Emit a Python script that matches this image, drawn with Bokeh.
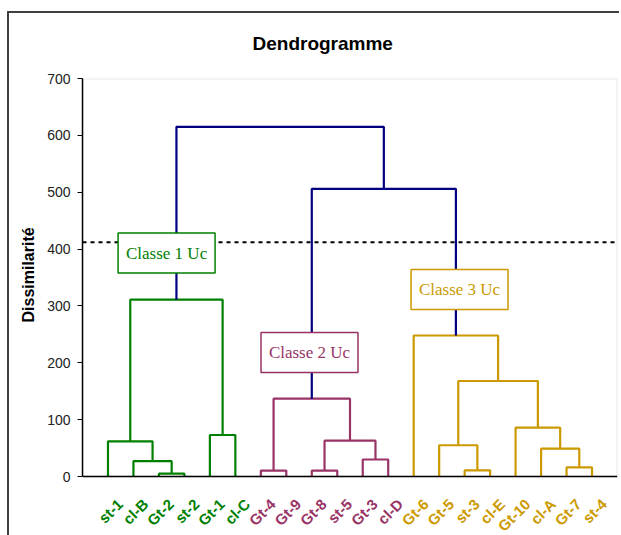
import math
from bokeh.plotting import figure
from bokeh.models import Range1d, FixedTicker, Span, BoxAnnotation, Title
from bokeh.core.properties import value
from bokeh.embed import file_html
from bokeh.resources import INLINE

# ---- data ----
leaves = ["st-1", "cl-B", "Gt-2", "st-2", "Gt-1", "cl-C",
          "Gt-4", "Gt-9", "Gt-8", "st-5", "Gt-3", "cl-D",
          "Gt-6", "Gt-5", "st-3", "cl-E", "Gt-10", "cl-A", "Gt-7", "st-4"]
leaf_class = [1, 1, 1, 1, 1, 1,
              2, 2, 2, 2, 2, 2,
              3, 3, 3, 3, 3, 3, 3, 3]
# agglomeration steps: node m{k} joins merge_left[k] and merge_right[k] at merge_height[k]
merge_left = ["Gt-2", "cl-B", "st-1", "Gt-1", "m2",
              "Gt-4", "Gt-8", "Gt-3", "m6", "m5",
              "st-3", "Gt-5", "Gt-7", "cl-A", "Gt-10", "m11", "Gt-6",
              "m9", "m4"]
merge_right = ["st-2", "m0", "m1", "cl-C", "m3",
               "Gt-9", "st-5", "cl-D", "m7", "m8",
               "cl-E", "m10", "st-4", "m12", "m13", "m14", "m15",
               "m16", "m17"]
merge_height = [5, 27, 62, 73, 311,
                10.5, 10.5, 30, 63, 137,
                11, 55, 16, 49, 86, 168, 248,
                506, 615]
cut_level = 412
class_names = ["Classe 1 Uc", "Classe 2 Uc", "Classe 3 Uc"]
y_ticks = [0, 100, 200, 300, 400, 500, 600, 700]

# ---- styles ----
class_colors = {1: "#008000", 2: "#993366", 3: "#CC9900"}
link_color = "#000080"
FONT = "Liberation Sans"

# ---- dendrogram geometry from the linkage ----
pos = {n: i + 1 for i, n in enumerate(leaves)}
hgt = {n: 0.0 for n in leaves}
cls = {n: c for n, c in zip(leaves, leaf_class)}
xs, ys, cols = [], [], []
for k, (l, r, h) in enumerate(zip(merge_left, merge_right, merge_height)):
    node = "m%d" % k
    xs.append([pos[l], pos[l], pos[r], pos[r]])
    ys.append([hgt[l], h, h, hgt[r]])
    same = cls[l] is not None and cls[l] == cls[r]
    cols.append(class_colors[cls[l]] if same else link_color)
    pos[node] = (pos[l] + pos[r]) / 2.0
    hgt[node] = h
    cls[node] = cls[l] if same else None

# frame extends below 0 to leave room for the leaf labels (same px/unit scale)
p = figure(frame_width=535, frame_height=457,
           min_border_left=82, min_border_right=2, min_border_top=78, min_border_bottom=0,
           x_range=Range1d(0, 21), y_range=Range1d(-103.7, 700),
           x_axis_location=None,
           output_backend="svg", toolbar_location=None,
           background_fill_color="white", border_fill_color=None)

p.styles = {
    "background-image": "linear-gradient(#404040, #404040), linear-gradient(#404040, #404040)",
    "background-size": "100% 2px, 2px 100%",
    "background-position": "7px 11px, 7px 11px",
    "background-repeat": "no-repeat, no-repeat",
}

p.title.text = "Dendrogramme"
p.title.align = "left"
p.title.text_font = FONT
p.title.text_font_size = "19px"
p.title.text_font_style = "bold"
p.title.text_color = "black"
p.title.offset = 170
p.title.standoff = 49

p.xgrid.visible = False
p.ygrid.visible = False
p.outline_line_color = None

# plot-area box (grey top/right edges)
area = BoxAnnotation(left=0, right=21, bottom=0, top=700, fill_alpha=0,
                     line_color="#b4b4b4", line_width=2, level="underlay")
p.add_layout(area)

# baseline
p.add_layout(Span(location=0, dimension="width", line_color="black", line_width=1.5))

# y axis
p.yaxis.ticker = FixedTicker(ticks=y_ticks)
p.yaxis.bounds = (0, 700)
p.yaxis.minor_tick_line_color = None
p.yaxis.major_tick_in = 0
p.yaxis.major_tick_out = 5
p.yaxis.major_label_standoff = 7
p.yaxis.major_label_text_font = FONT
p.yaxis.major_label_text_font_size = "14px"
p.yaxis.major_label_text_color = "#222222"
p.yaxis.axis_line_color = "black"
p.yaxis.axis_line_width = 1.5

# y-axis title, centred on the 0..700 span rather than on the whole frame
ytitle = Title(text="Dissimilarité", align="left", offset=213, standoff=15,
               text_font=FONT, text_font_size="16px", text_font_style="bold",
               text_color="black")
p.add_layout(ytitle, "left")

# cut level
p.add_layout(Span(location=cut_level, dimension="width", line_color="black",
                  line_width=2, line_dash="4 4", level="underlay"))

# dendrogram links
p.multi_line(xs=xs, ys=ys, line_color=cols, line_width=2.2)

# class boxes (placed beside each class branch)
box_x = [3.30, 8.91, 14.80]
box_y = [393, 218, 329]
box_cols = [class_colors[1], class_colors[2], class_colors[3]]
p.rect(x=box_x, y=box_y, width=97, height=40, width_units="screen", height_units="screen",
       fill_color="white", line_color=box_cols, line_width=1.5)
p.text(x=box_x, y=box_y, text=class_names, text_color=box_cols,
       text_font=value("Liberation Serif"), text_font_size="17px",
       text_align="center", text_baseline="middle")

# leaf labels
p.text(x=[pos[n] for n in leaves], y=[0] * len(leaves), text=leaves,
       text_color=[class_colors[c] for c in leaf_class],
       angle=math.pi / 4, text_align="right", text_baseline="middle",
       x_offset=12, y_offset=25,
       text_font=value(FONT), text_font_size="15px", text_font_style="bold")

open("out.html", "w").write(file_html(p, INLINE))
